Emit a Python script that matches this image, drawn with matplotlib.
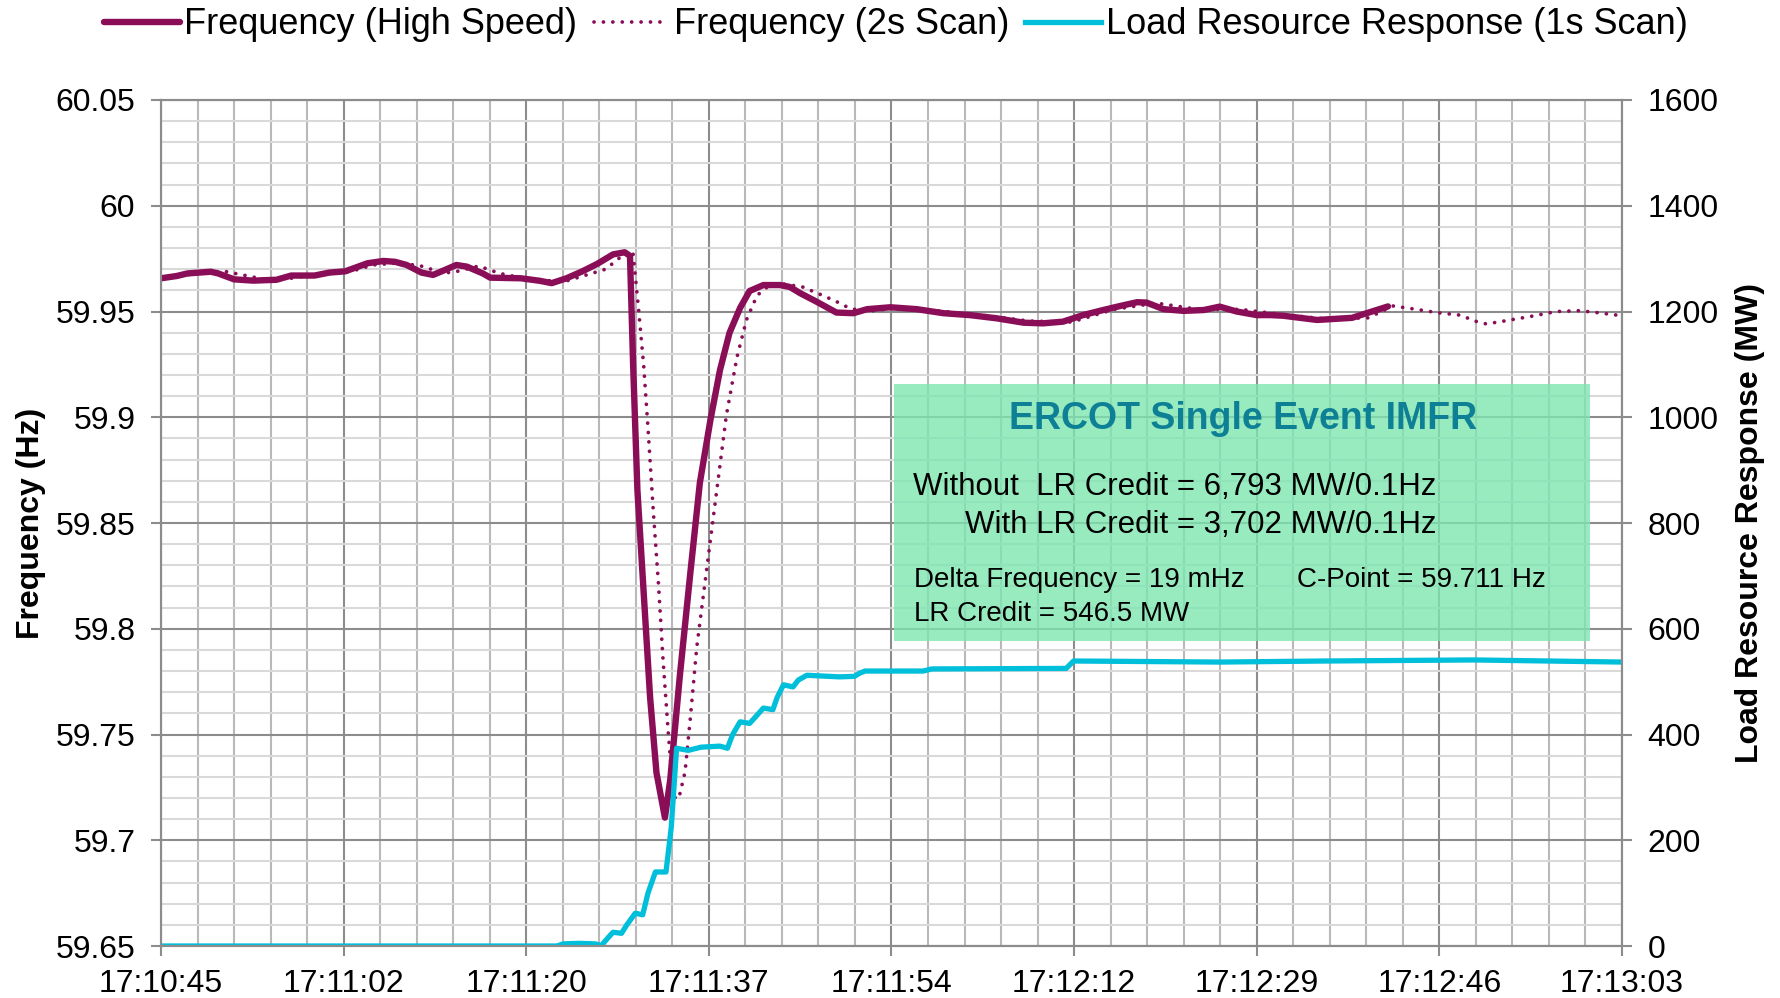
import numpy as np
import matplotlib
matplotlib.use('Agg')
import matplotlib.pyplot as plt
from matplotlib.patches import Rectangle
from matplotlib.ticker import FixedLocator, FuncFormatter

plt.rcParams['font.family'] = ['Liberation Sans', 'DejaVu Sans']

# seconds after 17:10:45
hs_t = [0, 1.5, 2.5, 4.7, 5.4, 6.9, 8.7, 10.9, 12.3, 14.5, 15.9, 17.4, 19.5, 21.0, 22.1, 23.2,
        24.6, 25.7, 26.7, 27.9, 28.9, 30.4, 31.1, 34.0, 35.8, 36.9, 38.3, 39.8, 41.2, 42.7, 43.8,
        44.3, 44.6, 45.0, 45.6, 46.2, 46.8, 47.6, 48.1, 49.0, 50.0, 50.9, 51.9, 52.8, 53.7, 54.7,
        55.6, 56.9, 58.5, 59.4, 60.4, 61.9, 63.8, 65.4, 66.7, 68.9, 71.4, 73.9, 76.4, 78.9, 81.5,
        83.3, 85.2, 87.1, 89.0, 90.6, 92.2, 93.1, 94.7, 96.6, 98.5, 100.0, 101.6, 103.5, 104.8,
        106.0, 109.2, 112.5, 115.9]
hs_f = [59.9657, 59.9668, 59.968, 59.9688, 59.968, 59.9652, 59.9646, 59.965, 59.967, 59.967,
        59.9684, 59.969, 59.9728, 59.9739, 59.9735, 59.972, 59.9684, 59.9673, 59.9694, 59.972,
        59.9712, 59.968, 59.966, 59.9657, 59.9645, 59.9634, 59.9657, 59.969, 59.9725, 59.977,
        59.978, 59.9763, 59.9243, 59.8656, 59.8165, 59.7675, 59.732, 59.7107, 59.7285, 59.7773,
        59.8264, 59.869, 59.8988, 59.9223, 59.9399, 59.9517, 59.9597, 59.9625, 59.9625, 59.9616,
        59.9586, 59.9547, 59.9495, 59.9492, 59.9511, 59.952, 59.9511, 59.9492, 59.9483, 59.9468,
        59.9447, 59.9444, 59.9452, 59.9483, 59.9507, 59.9526, 59.9544, 59.9542, 59.9511, 59.9503,
        59.9507, 59.9523, 59.95, 59.9483, 59.9483, 59.948, 59.946, 59.947, 59.9524]

scan_t = [0, 2, 4, 6, 7.5, 10, 12, 14, 16, 18, 20, 22.6, 24.9, 26.5, 28, 30, 32, 34, 36, 38, 40,
          42, 44.2, 44.6, 45.1, 45.6, 46.0, 46.5, 47.0, 47.4, 47.9, 48.4, 48.9, 49.5, 50.0, 50.6,
          51.5, 52.5, 53.4, 54.4, 55.3, 56.3, 57.5, 58.8, 60.6, 62.5, 63.8, 65.1, 66.7, 70, 74,
          78, 82, 86, 90, 94, 98, 102, 106, 110, 114, 116.4, 118.6, 120.5, 122.7, 124.3, 125.2,
          127.1, 129.3, 131.8, 134.0, 135.6, 138]
scan_f = [59.966, 59.967, 59.9685, 59.969, 59.9675, 59.965, 59.9655, 59.967, 59.968, 59.969,
          59.972, 59.973, 59.9712, 59.968, 59.969, 59.9715, 59.968, 59.966, 59.9648, 59.964,
          59.967, 59.970, 59.979, 59.977, 59.9517, 59.924, 59.895, 59.8557, 59.8204, 59.787,
          59.7519, 59.7205, 59.7195, 59.7323, 59.7578, 59.791, 59.8264, 59.8656, 59.9008,
          59.9283, 59.946, 59.9576, 59.9625, 59.963, 59.9616, 59.9576, 59.9547, 59.9514, 59.950,
          59.952, 59.950, 59.948, 59.9455, 59.945, 59.951, 59.954, 59.951, 59.951, 59.9485,
          59.9465, 59.947, 59.9526, 59.951, 59.9495, 59.9483, 59.9452, 59.9441, 59.9457,
          59.9476, 59.95, 59.9504, 59.9495, 59.948]

lr_t = [0, 37.4, 38.0, 39.5, 41.0, 41.6, 42.2, 42.7, 43.5, 44.0, 44.8, 45.5, 46.0, 46.7, 47.7,
        48.2, 48.7, 49.8, 51.0, 52.8, 53.5, 54.0, 54.7, 55.6, 56.1, 56.9, 57.8, 58.2, 58.8,
        59.7, 60.2, 61.0, 64.1, 65.5, 66.0, 66.5, 72.0, 72.8, 85.5, 86.2, 100, 110, 124, 138]
lr_mw = [0, 0, 4, 5, 4, 1, 15, 26, 24, 40, 62, 59, 100, 140, 140, 225, 374, 370, 376, 378, 374,
         400, 424, 421, 432, 450, 447, 470, 494, 490, 503, 512, 509, 510, 516, 520, 520, 524, 525,
         539, 537, 539, 541, 537]

x_ticks = [0, 17.25, 34.5, 51.75, 69, 86.25, 103.5, 120.75, 138]
x_labels = ['17:10:45', '17:11:02', '17:11:20', '17:11:37', '17:11:54',
            '17:12:12', '17:12:29', '17:12:46', '17:13:03']
f_ticks = [59.65, 59.7, 59.75, 59.8, 59.85, 59.9, 59.95, 60.0, 60.05]
mw_ticks = [0, 200, 400, 600, 800, 1000, 1200, 1400, 1600]

PURPLE = '#8a0e57'
CYAN = '#00bfda'
GRID_MAJ = '#8c8c8c'

fig = plt.figure(figsize=(17.81, 9.98), dpi=100)
ax = fig.add_axes([0.0904, 0.0521, 0.8203, 0.8477])
ax2 = ax.twinx()

ax.set_xlim(0, 138)
ax.set_ylim(59.65, 60.05)
ax2.set_ylim(0, 1600)

ax.xaxis.set_major_locator(FixedLocator(x_ticks))
ax.set_xticklabels(x_labels)
ax.xaxis.set_minor_locator(FixedLocator(np.arange(0, 138.01, 3.45)))
ax.yaxis.set_major_locator(FixedLocator(f_ticks))
ax.yaxis.set_major_formatter(FuncFormatter(lambda v, p: '%g' % round(v, 2)))
ax.yaxis.set_minor_locator(FixedLocator(np.arange(59.65, 60.051, 0.01)))
ax2.yaxis.set_major_locator(FixedLocator(mw_ticks))

ax.set_axisbelow(True)
ax.grid(which='major', color=GRID_MAJ, lw=1.5)
ax.grid(which='minor', axis='x', color='#b9b9b9', lw=1.5)
ax.grid(which='minor', axis='y', color='#d9d9d9', lw=1.5)

for a in (ax, ax2):
    for s in a.spines.values():
        s.set_color(GRID_MAJ)
        s.set_linewidth(1.5)
    a.tick_params(which='major', length=7.5, width=1.5, color=GRID_MAJ,
                  labelsize=23, pad=11)
    a.tick_params(which='minor', length=0)
ax.tick_params(axis='x', pad=9)

ax.plot(scan_t, scan_f, color=PURPLE, lw=2.7, linestyle=(0, (0.01, 2.5)),
        dash_capstyle='round', label='Frequency (2s Scan)', zorder=3)
ax.plot(hs_t, hs_f, color=PURPLE, lw=4.6, solid_joinstyle='round',
        solid_capstyle='round', label='Frequency (High Speed)', zorder=4)
ax2.plot(lr_t, lr_mw, color=CYAN, lw=3.8, solid_joinstyle='round',
         label='Load Resource Response (1s Scan)')

ax.set_ylabel('Frequency (Hz)', fontsize=23, fontweight='bold', labelpad=7)
ax2.set_ylabel('Load Resource Response (MW)', fontsize=23, fontweight='bold', labelpad=12)

# annotation box
ax.add_patch(Rectangle((0.5017, 0.3605), 0.4763, 0.3038, transform=ax.transAxes,
                       facecolor='#7ee6b0', alpha=0.8, edgecolor='none', zorder=5))
ax.text(0.7406, 0.6108, 'ERCOT Single Event IMFR', transform=ax.transAxes, ha='center',
        va='baseline', fontsize=27, fontweight='bold', color='#0e8096', zorder=6)
ax.text(0.8727, 0.5331, 'Without  LR Credit = 6,793 MW/0.1Hz', transform=ax.transAxes,
        ha='right', va='baseline', fontsize=22.5, zorder=6)
ax.text(0.8727, 0.4885, 'With LR Credit = 3,702 MW/0.1Hz', transform=ax.transAxes,
        ha='right', va='baseline', fontsize=22.5, zorder=6)
ax.text(0.5154, 0.4247, 'Delta Frequency = 19 mHz', transform=ax.transAxes,
        ha='left', va='baseline', fontsize=20, zorder=6)
ax.text(0.7778, 0.4247, 'C-Point = 59.711 Hz', transform=ax.transAxes,
        ha='left', va='baseline', fontsize=20, zorder=6)
ax.text(0.5154, 0.3845, 'LR Credit = 546.5 MW', transform=ax.transAxes,
        ha='left', va='baseline', fontsize=20, zorder=6)

h1, l1 = ax.get_legend_handles_labels()
h2, l2 = ax2.get_legend_handles_labels()
handles = [h1[1], h1[0], h2[0]]
labels = [l1[1], l1[0], l2[0]]
fig.legend(handles, labels, loc='center', bbox_to_anchor=(0.503, 0.975), ncol=3,
           frameon=False, fontsize=26, handlelength=2.1, handletextpad=0.12,
           columnspacing=0.45, borderpad=0.1)

fig.savefig('out.png', dpi=100)
